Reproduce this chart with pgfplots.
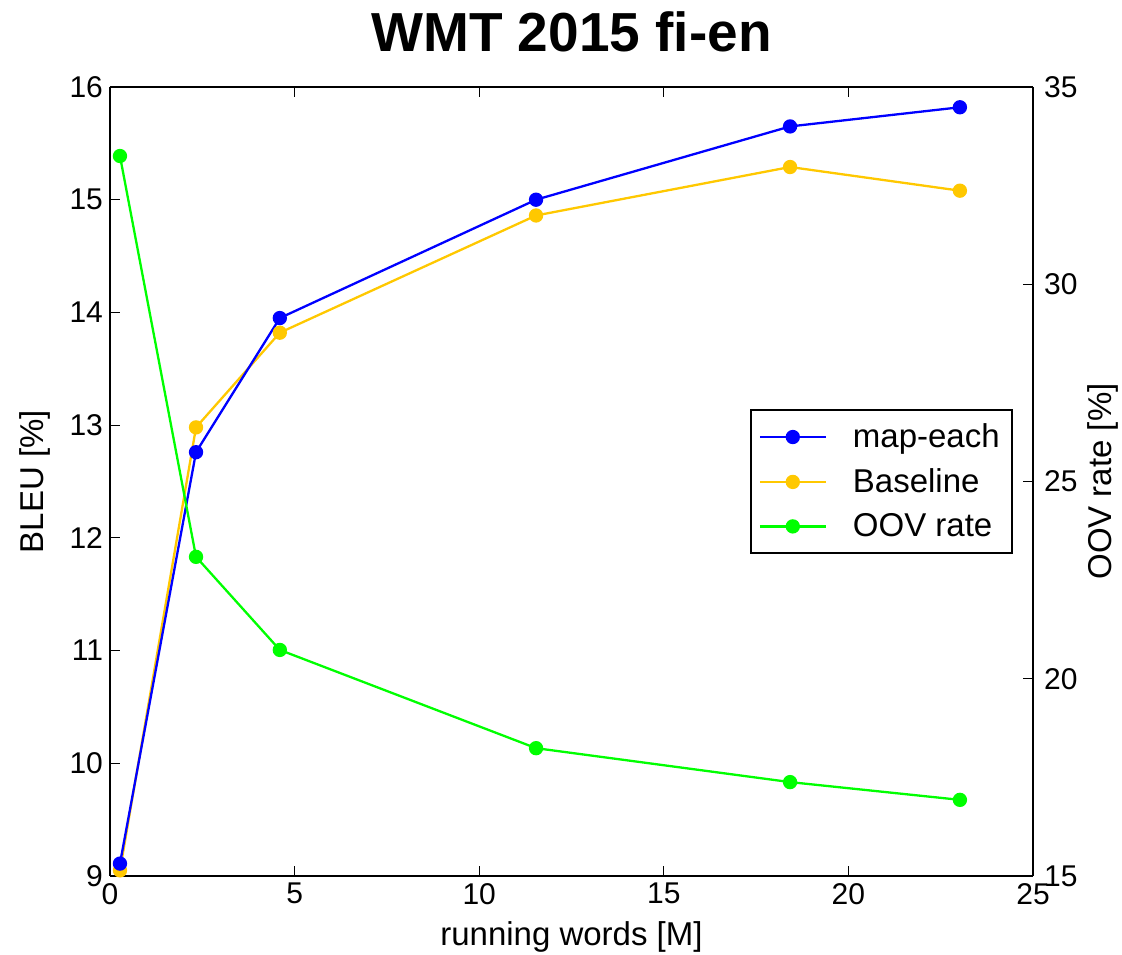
\documentclass[border=0pt]{standalone}
\usepackage{fontspec}
\setmainfont{Liberation Sans}
\usepackage{pgfplots}
\pgfplotsset{compat=1.18}
\definecolor{cMap}{HTML}{0000FF}
\definecolor{cBase}{HTML}{FFC800}
\definecolor{cOOV}{HTML}{00FF00}
\begin{document}
\begin{tikzpicture}
\pgfplotsset{
  every axis/.append style={
    scale only axis, width=461.5pt, height=394.5pt,
    xmin=0, xmax=25, xtick={0,5,...,25},
    axis line style={line width=1pt}, tick style={black, line width=0.6pt},
    major tick length=5pt, tick align=inside,
    tick label style={font=\fontsize{15}{17}\selectfont},
    label style={font=\fontsize{16.5}{19}\selectfont},
    /pgf/number format/assume math mode=true,
  },
  every axis plot/.append style={line width=1.15pt, mark=*, mark size=3pt},
}
\begin{axis}[
  axis y line*=left, ymin=9, ymax=16, ytick={9,...,16},
  xlabel={running words [M]}, ylabel={BLEU [\%]},
  xlabel style={at={(rel axis cs:0.5,0)}, anchor=center, yshift=-30.5pt},
  ylabel style={at={(rel axis cs:0,0.5)}, anchor=center, yshift=37.5pt},
  xtick pos=both,
  title={\bfseries WMT 2015 fi-en},
  title style={font=\fontsize{27.5}{30}\selectfont\bfseries, at={(rel axis cs:0.5,1)}, anchor=center, yshift=21.5pt},
]
\addplot[cBase, mark options={fill=cBase}] coordinates {(0.27,9.05)(2.33,12.98)(4.6,13.82)(11.54,14.86)(18.42,15.29)(23.02,15.08)};
\addplot[cMap, mark options={fill=cMap}] coordinates {(0.27,9.11)(2.33,12.76)(4.6,13.95)(11.54,15.0)(18.42,15.65)(23.02,15.82)};
\end{axis}
\begin{axis}[
  axis y line*=right, axis x line=none, ymin=15, ymax=35, ytick={15,20,...,35},
  yticklabel style={xshift=2pt},
  ylabel={OOV rate [\%]},
  ylabel style={at={(rel axis cs:1,0.5)}, anchor=center, rotate=0, yshift=-35pt},
  legend cell align=left,
  legend style={at={(0.978,0.5)}, anchor=east, draw=black, line width=1pt,
    font=\fontsize{16.5}{19}\selectfont, inner xsep=4pt, inner ysep=5pt,
    row sep=5pt},
  legend image code/.code={\draw[#1, line width=1.15pt] (0pt,0pt) -- (16.5pt,0pt) plot[mark=*, mark size=3pt] coordinates {(16.5pt,0pt)} (16.5pt,0pt) -- (33pt,0pt); \path (44pt,0pt);},
]
\addlegendimage{cMap, mark options={fill=cMap}}
\addlegendentry{map-each}
\addlegendimage{cBase, mark options={fill=cBase}}
\addlegendentry{Baseline}
\addplot[cOOV, mark options={fill=cOOV}] coordinates {(0.27,33.25)(2.33,23.09)(4.6,20.73)(11.54,18.24)(18.42,17.38)(23.02,16.93)};
\addlegendentry{OOV rate}
\end{axis}
\pgfresetboundingbox
\path[use as bounding box] ([shift={(-55pt,-39.5pt)}]current axis.south west) rectangle ([shift={(44.5pt,43.5pt)}]current axis.north east);
\end{tikzpicture}
\end{document}
